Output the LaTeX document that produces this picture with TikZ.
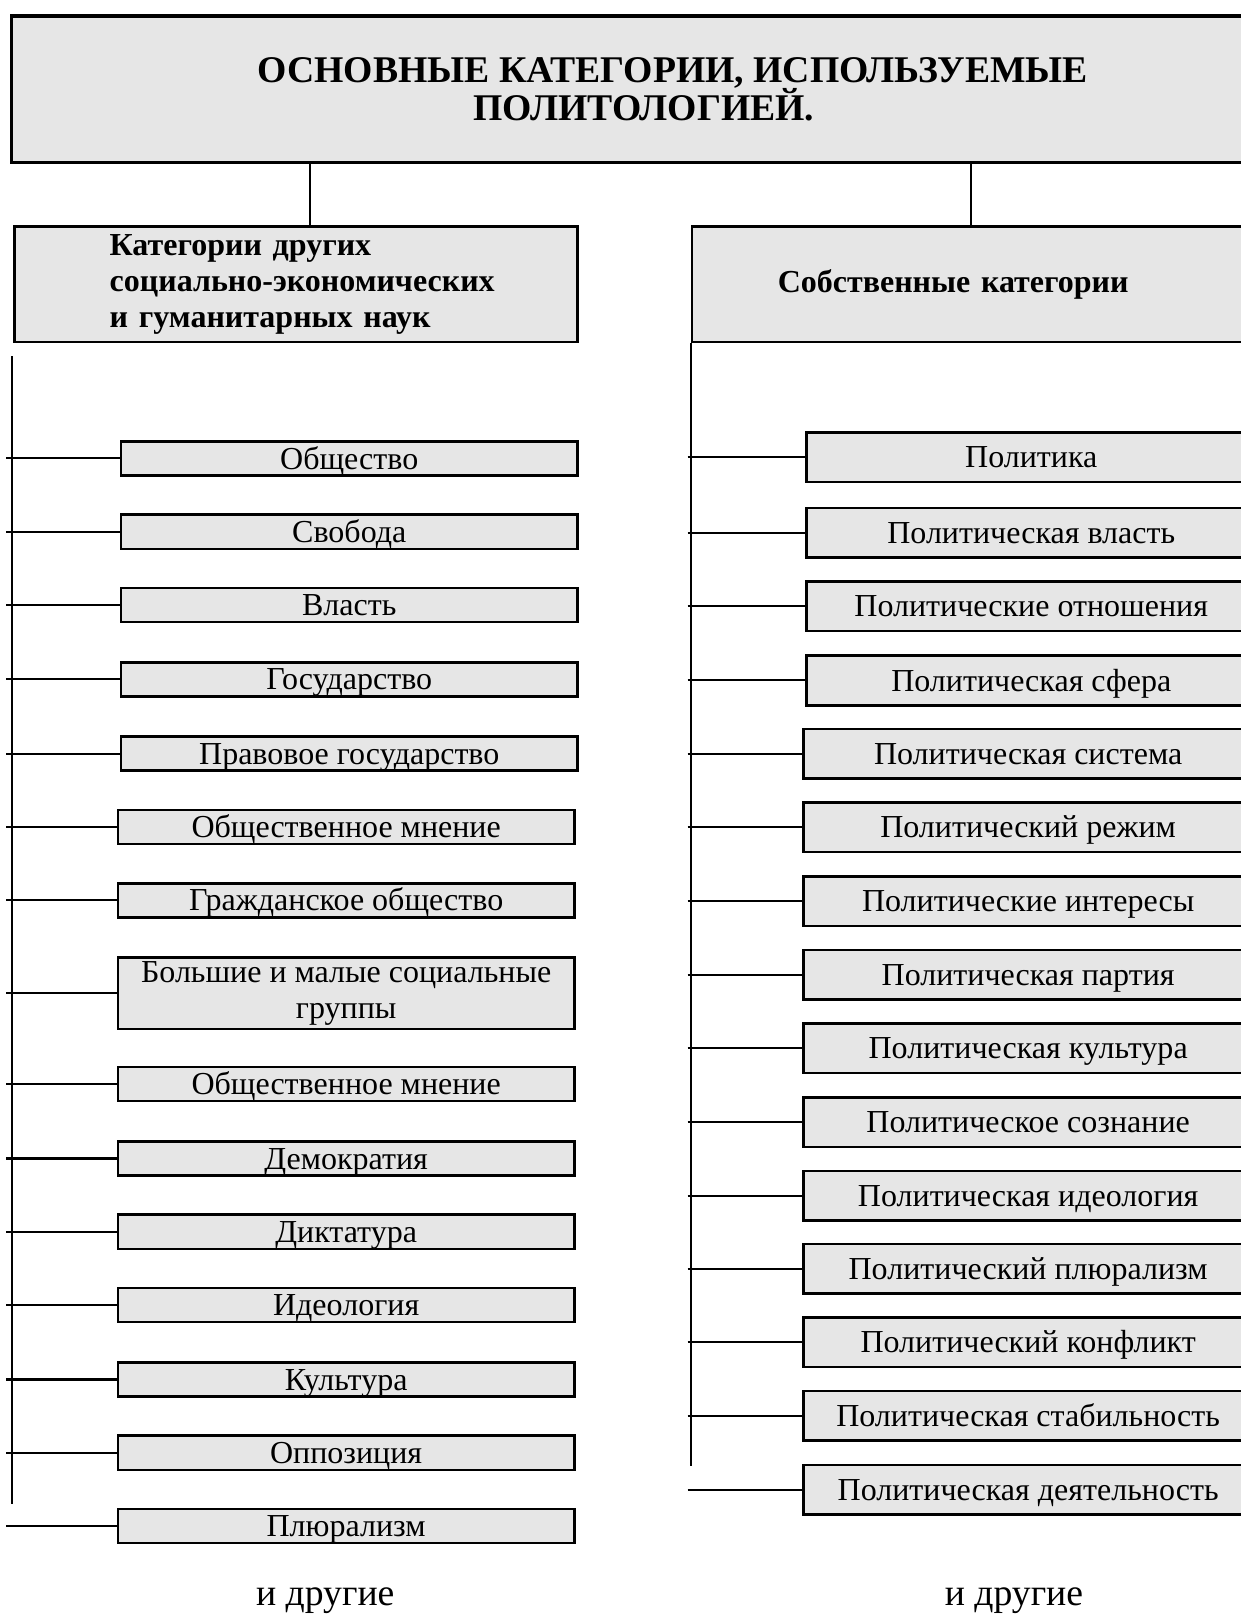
\documentclass[tikz,border=0pt]{standalone}
\usepackage{fontspec}
\setmainfont{Liberation Serif}
\definecolor{boxgray}{HTML}{E6E6E6}
\tikzset{
  catbox/.style={draw, fill=boxgray, line width=2.5pt, inner sep=0pt, anchor=west,
    font=\fontsize{31}{35}\selectfont, align=center},
  itembox/.style={catbox, text height=20.5pt, text depth=0pt},
  headbox/.style={draw, fill=boxgray, line width=2.5pt, anchor=north west,
    font=\fontsize{31}{35}\selectfont\bfseries, align=left},
  link/.style={line width=2pt}
}

\begin{document}
\begin{tikzpicture}[x=1pt,y=-1pt]
    \useasboundingbox[fill=white](0,0)rectangle(1201,1568);
    % title and the two groups
    \node[headbox,line width=3pt,align=center,inner sep=0pt,minimum width=1252,minimum height=142,
      font=\fontsize{36.5}{37}\selectfont\bfseries](title)at(10,14)
      {\hspace*{28pt}ОСНОВНЫЕ КАТЕГОРИИ, ИСПОЛЬЗУЕМЫЕ\\ПОЛИТОЛОГИЕЙ.\hspace*{28pt}};
    \node[headbox,inner xsep=92,inner ysep=0pt,text width=361,minimum height=112](lhead)at(13,218)
      {Категории других\\\mbox{социально-экономических}\\и гуманитарных наук};
    \node[headbox,inner xsep=83,inner ysep=0pt,text width=380,minimum height=112](rhead)at(669,218)
      {Собственные категории};
    \coordinate(lj)at(300,0);
    \coordinate(rj)at(940,0);
    \draw[link](title.south -| lj)--(lhead.north -| lj);
    \draw[link](title.south -| rj)--(rhead.north -| rj);

    % left column
    \coordinate(ltop)at(12,345);
    \coordinate(lbot)at(12,1457);
    \coordinate(lstem)at(6,0);
    \draw[link](ltop)--(lbot);
    \foreach \i/\yy/\xx/\txt in {1/444/116/Общество,2/515/116/Свобода,3/586/116/Власть,
        4/658/116/Государство,5/730/116/Правовое государство,6/801/113/Общественное мнение,
        7/872/113/Гражданское общество,9/1050/113/Общественное мнение,10/1122/113/Демократия,
        11/1193/113/Диктатура,12/1264/113/Идеология,13/1336/113/Культура,14/1407/113/Оппозиция,
        15/1478/113/Плюрализм}{
      \node[itembox,minimum width=442,minimum height=33](l\i)at(\xx,\yy){\txt};
      \draw[link](lstem |- l\i.west)--(l\i.west);
    }
    \node[catbox,minimum width=442,minimum height=69](l8)at(113,962)
      {Большие и малые социальные\\группы};
    \draw[link](lstem |- l8.west)--(l8.west);
    \node[font=\fontsize{36.5}{40}\selectfont](lmore)at(315,1550){и другие};

    % right column
    \coordinate(rbot)at(668,1420);
    \coordinate(rstem)at(666,0);
    \draw[link](rhead.south west)--(rhead.south west |- rbot);
    \foreach \i/\yy/\xx/\txt in {1/443/780/Политика,2/516/780/Политическая власть,
        3/587/780/Политические отношения,4/659/780/Политическая сфера,5/730/777/Политическая система,
        6/801/777/Политический режим,7/873/777/Политические интересы,8/944/777/Политическая партия,
        9/1015/777/Политическая культура,10/1087/777/Политическое сознание,
        11/1158/777/Политическая идеология,12/1229/777/Политический плюрализм,
        13/1300/777/Политический конфликт,14/1371/777/Политическая стабильность,
        15/1443/777/Политическая деятельность}{
      \node[itembox,minimum width=435,minimum height=48](r\i)at(\xx,\yy){\txt};
      \draw[link](rstem |- r\i.west)--(r\i.west);
    }
    \node[font=\fontsize{36.5}{40}\selectfont](rmore)at(982,1550){и другие};
\end{tikzpicture}
\end{document}
